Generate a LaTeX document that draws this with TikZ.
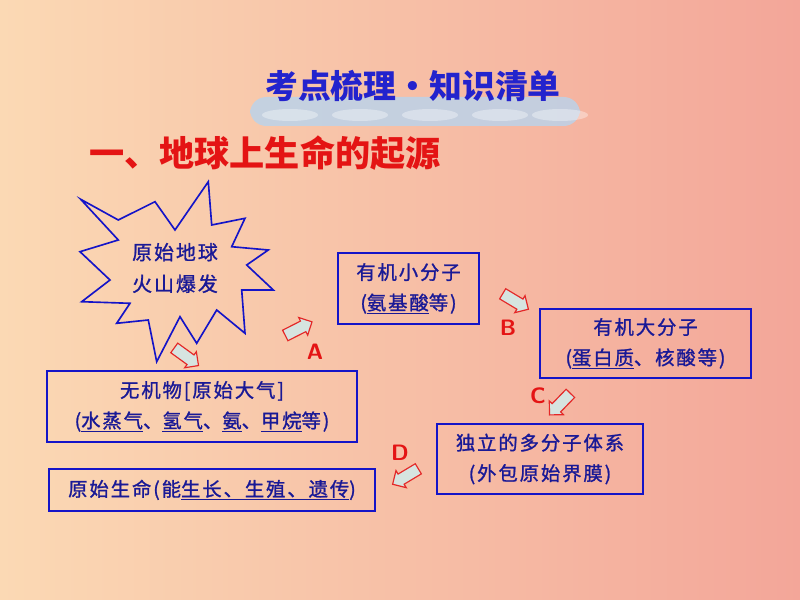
\documentclass[tikz,border=0pt]{standalone}
\usepackage{fontspec}
\newfontfamily\cjk{Noto Sans CJK SC}
\newfontfamily\cjkbody[LetterSpace=10, FakeBold=1.2]{Noto Sans CJK SC}
\usetikzlibrary{shapes.arrows}

\definecolor{bgleft}{RGB}{251,217,180}
\definecolor{bgright}{RGB}{243,166,153}
\definecolor{titleblue}{RGB}{35,35,205}
\definecolor{textblue}{RGB}{25,25,150}
\definecolor{boxblue}{RGB}{20,20,200}
\definecolor{headred}{RGB}{228,20,20}
\definecolor{arrowred}{RGB}{228,40,40}
\definecolor{arrowfill}{RGB}{214,228,224}
\definecolor{bandblue}{RGB}{184,212,238}

\begin{document}
\begin{tikzpicture}
        [x=0.03cm, y=-0.03cm,
         box/.style={draw=boxblue, line width=1.6pt, align=center, text=textblue,
                     font=\cjkbody\fontsize{16.5}{26}\selectfont, inner sep=0pt},
         blockarrow/.style={single arrow, draw=arrowred, fill=arrowfill, line width=1pt,
                     minimum height=0.9cm, inner xsep=0pt, inner ysep=0.16cm,
                     single arrow head extend=0.12cm},
         steplabel/.style={text=headred, font=\sffamily\bfseries\fontsize{19}{19}\selectfont}]

        % background and title band
        \useasboundingbox (0,0) rectangle (800,600);
        \shade[left color=bgleft, right color=bgright] (0,0) rectangle (800,600);
        \fill[bandblue, opacity=0.8, rounded corners=14] (250,97) rectangle (580,126);
        \foreach \x in {290,360,430,500,560}
        \fill[white, opacity=0.35] (\x,115) ellipse (28 and 6);

        \node[text=titleblue, font=\cjk\bfseries\fontsize{28}{28}\selectfont] (title) at (413,86) {考点梳理·知识清单};
        \node[text=headred, font=\cjk\bfseries\fontsize{30}{30}\selectfont] (heading) at (265,153) {一、地球上生命的起源};

        % volcano star
        \draw[boxblue, line width=1.4pt, line join=miter]
            (80.7,199.3) -- (118.3,220) -- (155,201.7) -- (175,230) -- (208.3,181.7)
            -- (211.7,225) -- (245,218.3) -- (231.7,246.7) -- (268.3,250) -- (246.7,265)
            -- (273.3,290) -- (241.7,290) -- (245,333.3) -- (216.7,310) -- (196.7,343.3)
            -- (180,316.7) -- (156.7,361.7) -- (148.3,320) -- (116.7,323.3) -- (130,303.3)
            -- (81.7,301.7) -- (110,280) -- (80,251.7) -- (118.3,240) -- cycle;
        \node[align=center, text=textblue, font=\cjkbody\fontsize{17}{27}\selectfont] (star) at (175,268) {原始地球\\火山爆发};

        % stages
        \node[box, minimum width=4.23cm, minimum height=2.13cm] (small-mol) at (408.5,288.5)
            {有机小分子\\(\underline{氨基酸}等)};
        \node[box, minimum width=6.33cm, minimum height=2.07cm] (big-mol) at (645.5,343.5)
            {有机大分子\\(\underline{蛋白质}、核酸等)};
        \node[box, minimum width=9.3cm, minimum height=2.13cm] (inorganic) at (202,406.5)
            {无机物[原始大气]\\(\underline{水蒸气}、\underline{氢气}、\underline{氨}、\underline{甲烷}等)};
        \node[box, minimum width=6.18cm, minimum height=2.1cm] (multi-mol) at (540,459)
            {独立的多分子体系\\(外包原始界膜)};
        \node[box, minimum width=9.78cm, minimum height=1.26cm] (life) at (212,490)
            {原始生命(能\underline{生长、生殖、遗传})};

        % steps
        \node[blockarrow, rotate=-36] (arrow-0) at (184,355) {};
        \node[blockarrow, rotate=27] (arrow-a) at (296,330) {};
        \node[blockarrow, rotate=-31] (arrow-b) at (513,300) {};
        \node[blockarrow, rotate=-134] (arrow-c) at (562,402) {};
        \node[blockarrow, rotate=-149] (arrow-d) at (408,475) {};

        \node[steplabel] (label-a) at (315,352) {A};
        \node[steplabel] (label-b) at (508,328) {B};
        \node[steplabel] (label-c) at (538,396) {C};
        \node[steplabel] (label-d) at (400,453) {D};

    \end{tikzpicture}
\end{document}
